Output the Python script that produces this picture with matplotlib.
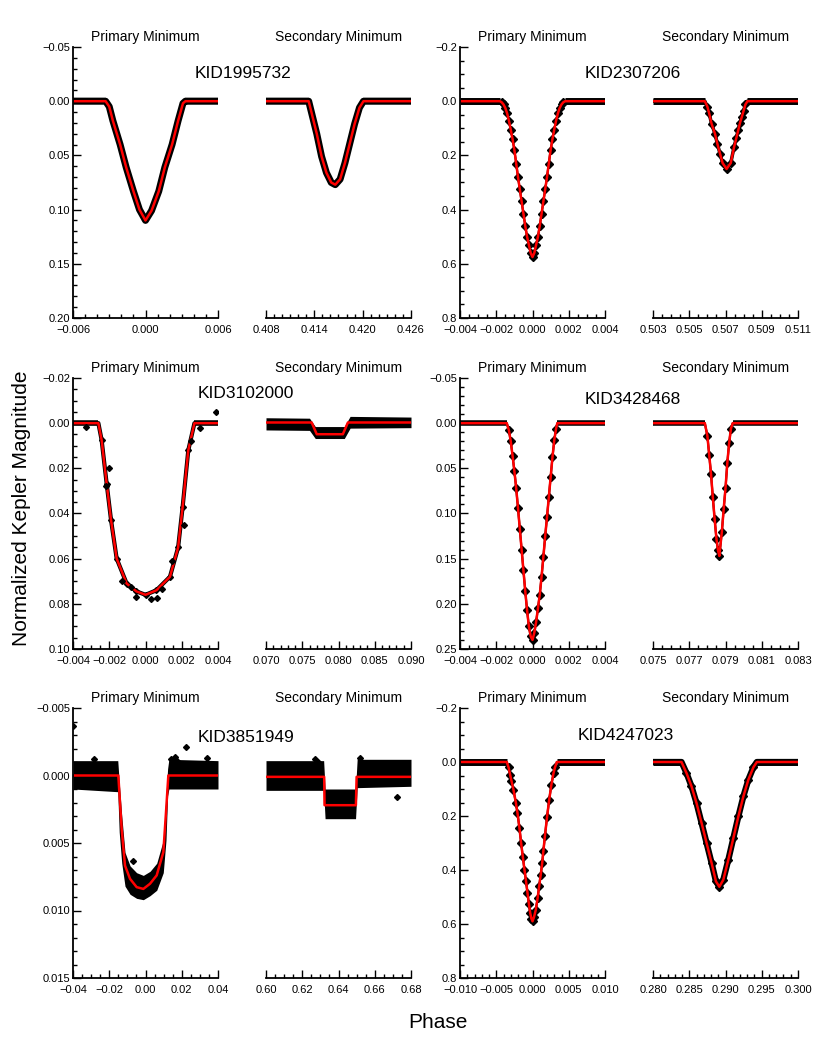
import matplotlib
matplotlib.use("Agg")
import matplotlib.pyplot as plt
from matplotlib.ticker import AutoMinorLocator, FuncFormatter

plt.rcParams['font.family'] = ['Liberation Sans', 'DejaVu Sans']

# ---- KID1995732 ----
a_p_phase = [-0.006, -0.0033, -0.0030, -0.0027, -0.0021, -0.0016, -0.0010, -0.0005, 0.0,
             0.0005, 0.0011, 0.0016, 0.0022, 0.0027, 0.0031, 0.0033, 0.006]
a_p_mag = [0.0, 0.0, 0.005, 0.018, 0.040, 0.061, 0.083, 0.100, 0.110,
           0.101, 0.083, 0.061, 0.040, 0.018, 0.002, 0.0, 0.0]
a_s_phase = [0.408, 0.4133, 0.4136, 0.4143, 0.4149, 0.4155, 0.4161, 0.4166, 0.4172,
             0.4178, 0.4184, 0.4190, 0.4196, 0.4201, 0.426]
a_s_mag = [0.0, 0.0, 0.009, 0.030, 0.051, 0.066, 0.075, 0.077, 0.072,
           0.057, 0.039, 0.021, 0.006, 0.0, 0.0]

# ---- KID2307206 ----
b_p_phase = [-0.004, -0.0018, -0.0017, -0.0016, -0.0015, -0.0014, -0.0013, -0.0012, -0.0011,
             -0.0010, -0.0009, -0.0008, -0.0007, -0.0006, -0.0005, -0.0004, -0.0003, -0.0002,
             -0.0001, 0.0, 0.0001, 0.0002, 0.0003, 0.0004, 0.0005, 0.0006, 0.0007, 0.0008,
             0.0009, 0.0010, 0.0011, 0.0012, 0.0013, 0.0014, 0.0015, 0.0016, 0.0017, 0.0018, 0.004]
b_p_mag = [0.0, 0.0, 0.004, 0.012, 0.025, 0.045, 0.072, 0.105, 0.14,
           0.18, 0.23, 0.28, 0.325, 0.37, 0.415, 0.46, 0.50, 0.53,
           0.56, 0.575, 0.56, 0.53, 0.50, 0.46, 0.415, 0.37, 0.325, 0.28,
           0.23, 0.18, 0.14, 0.105, 0.072, 0.045, 0.025, 0.012, 0.004, 0.0, 0.0]
b_s_phase = [0.503, 0.50586, 0.5060, 0.5061, 0.50623, 0.50642, 0.50655, 0.5067, 0.50684, 0.50706,
             0.50729, 0.50747, 0.5076, 0.50771, 0.5078, 0.5079, 0.5080, 0.5081, 0.50821, 0.511]
b_s_mag = [0.0, 0.0, 0.02, 0.045, 0.083, 0.12, 0.157, 0.194, 0.228, 0.25,
           0.228, 0.17, 0.135, 0.105, 0.08, 0.058, 0.035, 0.012, 0.0, 0.0]

# ---- KID3102000 ----
c_p_phase = [-0.004, -0.0026, -0.00242, -0.00214, -0.0019, -0.00159, -0.00104, -0.0005, 0.0,
             0.0006, 0.00135, 0.0018, 0.00205, 0.00236, 0.0027, 0.004]
c_p_mag = [0.0, 0.0, 0.0075, 0.027, 0.043, 0.060, 0.071, 0.0745, 0.076,
           0.074, 0.068, 0.055, 0.037, 0.012, 0.0, 0.0]
c_p_out_phase = [0.0039, 0.00144, -0.0020, 0.00062, -0.0022, 0.0021, 0.0025, -0.0005, 0.0030,
                 -0.0033, -0.0008, 0.0003, -0.0013, 0.0009]
c_p_out_mag = [-0.005, 0.0612, 0.0197, 0.0774, 0.028, 0.045, 0.008, 0.077, 0.002,
               0.0015, 0.0725, 0.0778, 0.0700, 0.0735]
c_s_phase = [0.070, 0.0763, 0.0770, 0.0806, 0.0813, 0.090]
c_s_mag = [-0.0003, -0.0003, 0.0049, 0.0049, -0.0003, -0.0003]
c_s_env_phase = [0.070, 0.0760, 0.0768, 0.0808, 0.0816, 0.090]
c_s_env_top = [-0.0024, -0.0022, 0.0015, 0.0015, -0.0030, -0.0027]
c_s_env_bot = [0.0030, 0.0032, 0.0068, 0.0068, 0.0022, 0.0020]

# ---- KID3428468 ----
d_p_phase = [-0.004, -0.00142, -0.0013, -0.0012, -0.0011, -0.0010, -0.0009, -0.0008, -0.0007,
             -0.0006, -0.0005, -0.0004, -0.0003, -0.0002, -0.0001, 0.0, 0.0001, 0.0002, 0.0003,
             0.0004, 0.0005, 0.0006, 0.0007, 0.0008, 0.0009, 0.0010, 0.0011, 0.0012, 0.0013,
             0.00137, 0.004]
d_p_mag = [0.0, 0.0, 0.008, 0.020, 0.036, 0.053, 0.072, 0.094, 0.117,
           0.140, 0.163, 0.186, 0.207, 0.225, 0.236, 0.240, 0.232, 0.220, 0.205,
           0.190, 0.170, 0.148, 0.125, 0.104, 0.082, 0.060, 0.038, 0.019, 0.006,
           0.0, 0.0]
d_s_phase = [0.075, 0.07786, 0.0780, 0.0781, 0.0782, 0.0783, 0.0784, 0.0785, 0.07858, 0.07866,
             0.0788, 0.0789, 0.0790, 0.0791, 0.0792, 0.0793, 0.0794, 0.083]
d_s_mag = [0.0, 0.0, 0.014, 0.035, 0.056, 0.082, 0.106, 0.128, 0.140, 0.147,
           0.120, 0.095, 0.072, 0.044, 0.022, 0.006, 0.0, 0.0]

# ---- KID3851949 ----
e_p_phase = [-0.04, -0.0150, -0.01315, -0.01131, -0.00855, -0.00487, -0.00119, 0.00248,
             0.00616, 0.00984, 0.01131, 0.0126, 0.04]
e_p_mag = [0.0, 0.0, 0.00395, 0.00667, 0.00765, 0.00827, 0.0084, 0.00802,
           0.0074, 0.00568, 0.00272, 0.0, 0.0]
e_p_env_phase = [-0.04, -0.0153, -0.0145, -0.0131, -0.0113, -0.0085, -0.0049, -0.0012, 0.0025,
                 0.0062, 0.0098, 0.0113, 0.0122, 0.0129, 0.04]
e_p_env_top = [-0.0011, -0.0011, 0.0005, 0.0030, 0.0057, 0.0067, 0.0072, 0.0074, 0.0071,
               0.0065, 0.0048, 0.0015, -0.0005, -0.0012, -0.0011]
e_p_env_bot = [0.0010, 0.0012, 0.0042, 0.0065, 0.0082, 0.0088, 0.0091, 0.0092, 0.0089,
               0.0085, 0.0072, 0.0048, 0.0015, 0.0010, 0.0010]
e_p_out_phase = [-0.0399, 0.0222, 0.0337, -0.0282, 0.0140, 0.0160, -0.0067, 0.0175]
e_p_out_mag = [-0.0037, -0.0021, -0.0013, -0.0012, -0.0012, -0.0014, 0.0063, -0.0011]
e_s_phase = [0.60, 0.6321, 0.6323, 0.6496, 0.6500, 0.68]
e_s_mag = [0.0001, 0.0001, 0.0022, 0.0022, 0.0001, 0.0001]
e_s_env_phase = [0.60, 0.6318, 0.6326, 0.6494, 0.6503, 0.68]
e_s_env_top = [-0.0011, -0.0011, 0.0010, 0.0010, -0.0012, -0.0012]
e_s_env_bot = [0.0011, 0.0011, 0.0032, 0.0032, 0.0009, 0.0008]
e_s_out_phase = [0.6269, 0.6723, 0.6285, 0.6520]
e_s_out_mag = [-0.0012, 0.0016, -0.0010, -0.0013]

# ---- KID4247023 ----
f_p_phase = [-0.010, -0.00355, -0.0033, -0.00309, -0.0029, -0.00263, -0.0023, -0.00207, -0.0018,
             -0.00157, -0.00134, -0.00111, -0.0009, -0.00069, -0.0005, -0.00032, -0.00015, 0.0,
             0.0002, 0.00046, 0.0007, 0.00092, 0.00113, 0.00134, 0.0015, 0.00171, 0.0020, 0.0023,
             0.0026, 0.0029, 0.0031, 0.00336, 0.010]
f_p_mag = [0.0, 0.0, 0.020, 0.047, 0.070, 0.102, 0.150, 0.189, 0.245,
           0.300, 0.350, 0.399, 0.440, 0.485, 0.525, 0.559, 0.580, 0.590,
           0.575, 0.547, 0.505, 0.460, 0.418, 0.374, 0.330, 0.275, 0.205, 0.140,
           0.085, 0.041, 0.020, 0.0, 0.0]
f_s_phase = [0.280, 0.28393, 0.28462, 0.28531, 0.28600, 0.28670, 0.28739, 0.28808, 0.28868,
             0.28915, 0.28970, 0.29039, 0.29109, 0.29178, 0.29247, 0.29316, 0.29386, 0.29432, 0.300]
f_s_mag = [0.0, 0.0, 0.041, 0.090, 0.152, 0.226, 0.300, 0.374, 0.442,
           0.462, 0.436, 0.362, 0.281, 0.201, 0.127, 0.065, 0.019, 0.0, 0.0]

# tick values
a_yticks = [-0.05, 0.00, 0.05, 0.10, 0.15, 0.20]
a_p_xticks = [-0.006, 0.0, 0.006]
a_s_xticks = [0.408, 0.414, 0.420, 0.426]
b_yticks = [-0.2, 0.0, 0.2, 0.4, 0.6, 0.8]
b_p_xticks = [-0.004, -0.002, 0.0, 0.002, 0.004]
b_s_xticks = [0.503, 0.505, 0.507, 0.509, 0.511]
c_yticks = [-0.02, 0.0, 0.02, 0.04, 0.06, 0.08, 0.10]
c_p_xticks = [-0.004, -0.002, 0.0, 0.002, 0.004]
c_s_xticks = [0.070, 0.075, 0.080, 0.085, 0.090]
d_yticks = [-0.05, 0.0, 0.05, 0.10, 0.15, 0.20, 0.25]
d_p_xticks = [-0.004, -0.002, 0.0, 0.002, 0.004]
d_s_xticks = [0.075, 0.077, 0.079, 0.081, 0.083]
e_yticks = [-0.005, 0.0, 0.005, 0.010, 0.015]
e_p_xticks = [-0.04, -0.02, 0.0, 0.02, 0.04]
e_s_xticks = [0.60, 0.62, 0.64, 0.66, 0.68]
f_yticks = [-0.2, 0.0, 0.2, 0.4, 0.6, 0.8]
f_p_xticks = [-0.010, -0.005, 0.0, 0.005, 0.010]
f_s_xticks = [0.280, 0.285, 0.290, 0.295, 0.300]

W, H = 822.0, 1049.0
fig = plt.figure(figsize=(8.22, 10.49), dpi=100)


def fmt(nd):
    return FuncFormatter(lambda v, p: ('%.*f' % (nd, v)).replace('-', '\u2212'))


def make_axes(x0, x1, ytop, ybot, xticks, xnd, xminor, yticks, ynd, yminor, primary):
    ax = fig.add_axes([x0 / W, 1 - ybot / H, (x1 - x0) / W, (ybot - ytop) / H])
    ax.set_xlim(xticks[0], xticks[-1])
    ax.set_ylim(yticks[-1], yticks[0])
    ax.set_xticks(xticks)
    ax.xaxis.set_major_formatter(fmt(xnd))
    ax.xaxis.set_minor_locator(AutoMinorLocator(xminor))
    for s in ['top', 'right']:
        ax.spines[s].set_visible(False)
    for s in ['left', 'bottom']:
        ax.spines[s].set_linewidth(1.3)
    ax.tick_params(which='both', direction='in', top=False, right=False, width=1.0, labelsize=8)
    ax.tick_params(which='major', length=6)
    ax.tick_params(which='minor', length=3)
    ax.tick_params(axis='x', pad=5)
    ax.tick_params(axis='y', pad=2)
    if primary:
        ax.set_yticks(yticks)
        ax.yaxis.set_major_formatter(fmt(ynd))
        ax.yaxis.set_minor_locator(AutoMinorLocator(yminor))
        ax.set_title('Primary Minimum', fontsize=10, pad=4)
    else:
        ax.spines['left'].set_visible(False)
        ax.set_yticks([])
        ax.tick_params(axis='y', which='both', left=False, labelleft=False)
        ax.set_title('Secondary Minimum', fontsize=10, pad=4)
    ax.patch.set_alpha(0)
    return ax


def curve(ax, ph, mg, flat=5, slope=5, ms=0):
    # thick band over the out-of-eclipse baseline, thinner through the eclipse
    ax.plot(ph[:2], mg[:2], color='black', lw=flat, solid_capstyle='butt')
    ax.plot(ph[-2:], mg[-2:], color='black', lw=flat, solid_capstyle='butt')
    ax.plot(ph, mg, color='black', lw=slope, solid_joinstyle='round', solid_capstyle='butt')
    if ms:
        ax.plot(ph[2:-2], mg[2:-2], 'D', color='black', ms=ms, ls='none')
    ax.plot(ph, mg, color='red', lw=1.8)


rows = [(47, 318), (378, 649), (708, 978)]
colA = (73, 218, 266, 411)
colB = (460, 605, 653, 798)

# KID1995732
t, b = rows[0]
ax = make_axes(colA[0], colA[1], t, b, a_p_xticks, 3, 6, a_yticks, 2, 5, True)
curve(ax, a_p_phase, a_p_mag, flat=4.5, slope=5)
ax = make_axes(colA[2], colA[3], t, b, a_s_xticks, 3, 6, a_yticks, 2, 5, False)
curve(ax, a_s_phase, a_s_mag, flat=4.5, slope=5)

# KID2307206
ax = make_axes(colB[0], colB[1], t, b, b_p_xticks, 3, 4, b_yticks, 1, 4, True)
curve(ax, b_p_phase, b_p_mag, flat=5, slope=1.5, ms=4)
ax = make_axes(colB[2], colB[3], t, b, b_s_xticks, 3, 4, b_yticks, 1, 4, False)
curve(ax, b_s_phase, b_s_mag, flat=5, slope=2.5, ms=4)

# KID3102000
t, b = rows[1]
ax = make_axes(colA[0], colA[1], t, b, c_p_xticks, 3, 4, c_yticks, 2, 4, True)
curve(ax, c_p_phase, c_p_mag, flat=4, slope=3, ms=3)
ax.plot(c_p_out_phase, c_p_out_mag, 'D', color='black', ms=3, ls='none')
ax = make_axes(colA[2], colA[3], t, b, c_s_xticks, 3, 5, c_yticks, 2, 4, False)
ax.fill_between(c_s_env_phase, c_s_env_top, c_s_env_bot, color='black', lw=0)
ax.plot(c_s_phase, c_s_mag, color='red', lw=1.8)

# KID3428468
ax = make_axes(colB[0], colB[1], t, b, d_p_xticks, 3, 4, d_yticks, 2, 5, True)
curve(ax, d_p_phase, d_p_mag, flat=4, slope=1.5, ms=4)
ax = make_axes(colB[2], colB[3], t, b, d_s_xticks, 3, 4, d_yticks, 2, 5, False)
curve(ax, d_s_phase, d_s_mag, flat=4, slope=1.5, ms=4)

# KID3851949
t, b = rows[2]
ax = make_axes(colA[0], colA[1], t, b, e_p_xticks, 2, 4, e_yticks, 3, 5, True)
ax.fill_between(e_p_env_phase, e_p_env_top, e_p_env_bot, color='black', lw=0)
ax.plot(e_p_out_phase, e_p_out_mag, 'D', color='black', ms=3, ls='none')
ax.plot(e_p_phase, e_p_mag, color='red', lw=1.8)
ax = make_axes(colA[2], colA[3], t, b, e_s_xticks, 2, 4, e_yticks, 3, 5, False)
ax.fill_between(e_s_env_phase, e_s_env_top, e_s_env_bot, color='black', lw=0)
ax.plot(e_s_out_phase, e_s_out_mag, 'D', color='black', ms=3, ls='none')
ax.plot(e_s_phase, e_s_mag, color='red', lw=1.8)

# KID4247023
ax = make_axes(colB[0], colB[1], t, b, f_p_xticks, 3, 5, f_yticks, 1, 4, True)
curve(ax, f_p_phase, f_p_mag, flat=5, slope=1.5, ms=4)
ax = make_axes(colB[2], colB[3], t, b, f_s_xticks, 3, 5, f_yticks, 1, 4, False)
curve(ax, f_s_phase, f_s_mag, flat=5, slope=4.5, ms=4)

# star names
names = ['KID1995732', 'KID2307206', 'KID3102000', 'KID3428468', 'KID3851949', 'KID4247023']
name_pos = [(243, 74), (633, 74), (246, 394), (633, 399), (246, 737), (626, 735)]
for n, (px, py) in zip(names, name_pos):
    fig.text(px / W, 1 - py / H, n, fontsize=12.5, ha='center', va='center')

fig.text(22 / W, 1 - 508 / H, 'Normalized Kepler Magnitude', rotation=90,
         fontsize=15, ha='center', va='center')
fig.text(438 / W, 1 - 1022 / H, 'Phase', fontsize=15, ha='center', va='center')

fig.savefig('out.png', dpi=100)
